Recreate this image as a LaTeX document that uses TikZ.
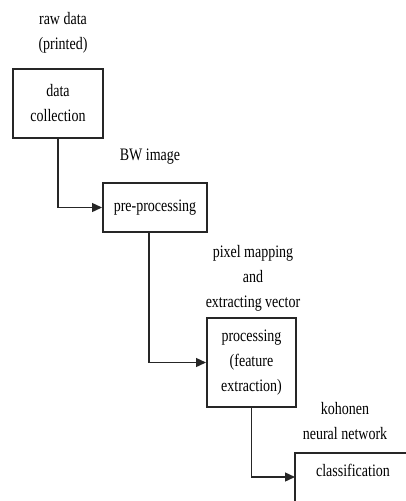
\documentclass[tikz,border=0pt]{standalone}
\usepackage{fontspec}
\setmainfont{Liberation Serif}[FakeStretch=0.8]
\usetikzlibrary{arrows.meta}
\begin{document}
\begin{tikzpicture}[x=1pt,y=-1pt,
  stage/.style={draw=black!85,line width=2pt,inner sep=0pt,align=center,
    font=\fontsize{17.5}{25}\selectfont},
  note/.style={align=center,font=\fontsize{17.5}{25}\selectfont},
  flow/.style={draw=black!85,line width=1.4pt,-{Triangle[length=10pt,width=9pt]}}]
\useasboundingbox (0,0) rectangle (406,501);
% stages
\node[stage,minimum width=90pt,minimum height=69pt] (collect) at (58,103) {data\\collection};
\node[stage,minimum width=104pt,minimum height=49pt] (pre) at (155,207.5) {pre-processing};
\node[stage,minimum width=89pt,minimum height=89pt] (proc) at (251.5,362.5) {processing\\(feature\\extraction)};
\node[stage,minimum width=116pt,minimum height=56pt,text depth=22pt] (cls) at (353,481) {classification};
% side notes
\node[note] (n1) at (63,33) {raw data\\(printed)};
\node[note] (n2) at (150,157) {BW image};
\node[note] (n3) at (253,278) {pixel mapping\\and\\extracting vector};
\node[note] (n4) at (345,421) {kohonen\\neural network};
% connectors
\coordinate (in4) at (295,477);
\draw[flow] (collect.south) |- (pre.west);
\draw[flow] ([xshift=-6pt]pre.south) |- (proc.west);
\draw[flow] (proc.south) |- (in4);
\end{tikzpicture}
\end{document}
